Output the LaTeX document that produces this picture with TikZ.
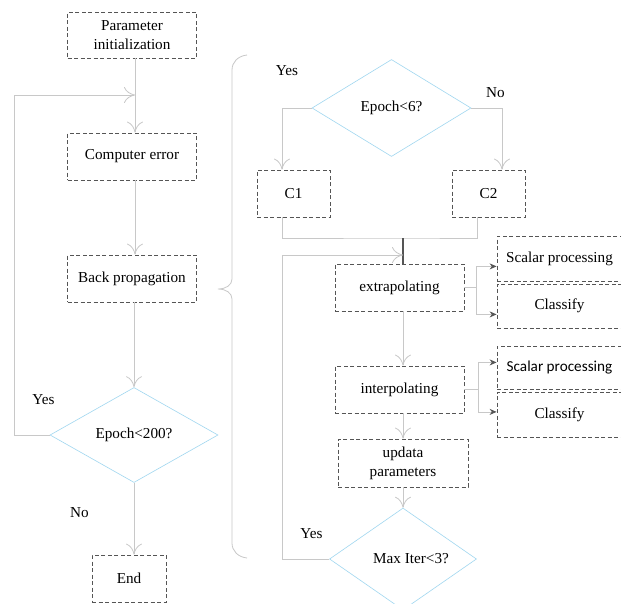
\documentclass[tikz,border=0pt]{standalone}
\usepackage{fontspec}
\setmainfont{Liberation Serif}
\newfontfamily\calfont{Carlito}
\usetikzlibrary{arrows.meta,shapes.geometric}
\definecolor{linegray}{RGB}{200,200,200}
\definecolor{boxgray}{RGB}{85,85,85}
\definecolor{diablue}{RGB}{160,215,240}
\tikzset{
  flow/.style={draw=linegray, line width=0.8pt},
  openarrow/.style={-{Computer Modern Rightarrow[length=11pt,width=16pt,line width=0.8pt]}},
  smallarrow/.style={-{Stealth[length=7pt,width=6pt,color=boxgray]}},
  stepbox/.style={draw=boxgray, line width=0.8pt, dash pattern=on 4pt off 2.5pt,
    inner sep=0pt, align=center, minimum width=129pt, minimum height=47pt},
  sidebox/.style={stepbox, minimum width=125pt},
  decision/.style={diamond, draw=diablue, line width=0.6pt, inner sep=0pt, align=center},
  lbl/.style={inner sep=0pt}
}
\begin{document}
\begin{tikzpicture}[x=1pt, y=-1pt, font=\fontsize{15.2}{19}\selectfont]
\useasboundingbox (0,0) rectangle (621,603);
\clip (0,0) rectangle (621,603);
\fill[white] (0,0) rectangle (621,603);

% ---- outer training loop ----
\node[stepbox, minimum height=46pt] (init) at (132,35) {Parameter\\initialization};
\node[stepbox] (comp) at (132,156.5) {Computer error};
\node[stepbox] (back) at (132,278.5) {Back propagation};
\node[decision, minimum width=168pt, minimum height=95pt] (d200) at (134,435) {Epoch<200?};
\node[stepbox, minimum width=74pt] (end) at (129,578.5) {End};

\coordinate (mx) at (135,0);
\coordinate (lx) at (14,95);
\draw[flow, openarrow] (init.south -| mx) -- (comp.north -| mx);
\draw[flow, openarrow] (comp.south -| mx) -- (back.north -| mx);
\draw[flow, openarrow] (back.south -| d200.north) -- (d200.north);
\draw[flow, openarrow] (d200.south) -- (end.north -| d200.south);
\draw[flow, openarrow] (d200.west) -| (lx) -- (lx -| mx);

\node[lbl] (yes1) at (43.5,400) {Yes};
\node[lbl] (no1) at (79.5,513) {No};

% ---- brace ----
\draw[flow] (247,55) .. controls (238,56) and (232,62) .. (232,70)
  -- (232,279) .. controls (232,285) and (226,289) .. (218,289)
  .. controls (226,289) and (232,293) .. (232,299)
  -- (232,543) .. controls (232,551) and (238,557) .. (247,558);

% ---- inner procedure ----
\node[decision, minimum width=159pt, minimum height=97pt] (d6) at (391.5,108) {Epoch<6?};
\node[stepbox, minimum width=73pt] (c1) at (293.5,193.5) {C1};
\node[stepbox, minimum width=73pt] (c2) at (488.5,193.5) {C2};
\node[lbl] (yes2) at (287,71) {Yes};
\node[lbl] (no2) at (495.5,93) {No};

\coordinate (c1x) at (282,0);
\coordinate (c2x) at (502,0);
\coordinate (c2b) at (477,0);
\coordinate (jn) at (403,238);
\draw[flow, openarrow] (d6.west) -| (c1.north -| c1x);
\draw[flow, openarrow] (d6.east) -| (c2.north -| c2x);
\draw[flow] (c1.south -| c1x) |- (jn) -| (c2.south -| c2b);

\node[stepbox] (ext) at (399.5,287.5) {extrapolating};
\node[stepbox] (int) at (399.5,389.5) {interpolating};
\node[stepbox, minimum width=130pt, minimum height=48pt] (upd) at (403,463) {updata\\parameters};
\node[decision, minimum width=147pt, minimum height=96pt] (dmax) at (403,559) {\hspace*{16pt}Max Iter<3?};
\node[lbl] (yes3) at (311.5,534) {Yes};

\draw[boxgray, line width=2.2pt] (jn) -- (ext.north -| jn);
\draw[flow, openarrow] (ext.south -| jn) -- (int.north -| jn);
\draw[flow, openarrow] (int.south -| jn) -- (upd.north);
\draw[flow, openarrow] (upd.south) -- (dmax.north);
\coordinate (lp) at (282,255);
\draw[flow, openarrow] (dmax.west) -| (lp) -- (lp -| jn);

% ---- side processing boxes ----
\node[sidebox, minimum height=45.5pt] (sp1) at (559.5,258.75) {Scalar processing};
\node[sidebox, minimum height=44pt] (cl1) at (559.5,306) {Classify};
\node[sidebox, minimum height=43.5pt] (sp2) at (559.5,367.75) {\calfont Scalar processing};
\node[sidebox, minimum height=45pt] (cl2) at (559.5,414.5) {Classify};

\coordinate (bx1) at (476,0);
\coordinate (bx2) at (478,0);
\draw[flow] (ext.east) -- (ext.east -| bx1);
\draw[flow, smallarrow] (ext.east -| bx1) |- ([yshift=15.5pt]sp1.south west);
\draw[flow, smallarrow] (ext.east -| bx1) |- ([yshift=14pt]cl1.south west);
\draw[flow] (int.east) -- (int.east -| bx2);
\draw[flow, smallarrow] (int.east -| bx2) |- ([yshift=27.5pt]sp2.south west);
\draw[flow, smallarrow] (int.east -| bx2) |- ([yshift=25.5pt]cl2.south west);
\end{tikzpicture}
\end{document}
